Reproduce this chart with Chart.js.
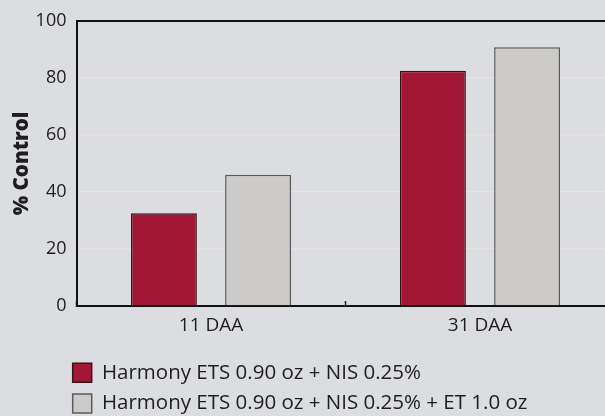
<!DOCTYPE html>
<html>
<head>
<meta charset="utf-8">
<script src="https://cdn.jsdelivr.net/npm/chart.js@4"></script>
<style>
  html, body { margin: 0; padding: 0; overflow: hidden; background: #dcdde0; width: 605px; height: 416px; }
  #wrap { width: 616px; height: 416px; }
</style>
</head>
<body>
<div id="wrap"><canvas id="c" width="616" height="416"></canvas></div>
<script>
const categories = ['11 DAA', '31 DAA'];
const seriesNames = ['Harmony ETS 0.90 oz + NIS 0.25%', 'Harmony ETS 0.90 oz + NIS 0.25% + ET 1.0 oz'];
const harmonyNis = [32.5, 82.5];
const harmonyNisEt = [46.0, 90.7];
const yTicks = [0, 20, 40, 60, 80, 100];

const FONT = '"Open Sans", Lato, sans-serif';

const legendShift = {
  id: 'legendShift',
  afterLayout(chart, args, opts) {
    const l = chart.legend;
    if (!l) return;
    l.left += opts.dx; l.right += opts.dx;
    l.top += opts.dy; l.bottom += opts.dy;
  }
};

new Chart(document.getElementById('c'), {
  type: 'bar',
  data: {
    labels: categories,
    datasets: [
      { label: seriesNames[0], data: harmonyNis, backgroundColor: '#a11735', borderColor: '#3b1119', borderWidth: 1.5, xAxisID: 'x' },
      { label: seriesNames[1], data: harmonyNisEt, backgroundColor: '#cccbc9', borderColor: '#5a5a5a', borderWidth: 1.5, xAxisID: 'x' }
    ]
  },
  plugins: [legendShift],
  options: {
    responsive: false,
    animation: false,
    devicePixelRatio: 1,
    layout: { padding: { left: 0, right: 1.5, top: 15, bottom: 0 } },
    datasets: { bar: { barPercentage: 0.70, categoryPercentage: 0.70 } },
    scales: {
      x: {
        position: 'bottom',
        offset: true,
        grid: { drawOnChartArea: false, drawTicks: true, tickLength: -5, color: '#222', tickWidth: 1.5, offset: true },
        border: { display: true, color: '#111', width: 2 },
        ticks: { color: '#1e1e1e', font: { family: FONT, size: 19 }, padding: 13 },
        afterFit(s) { s.height = 38.6; }
      },
      xTop: {
        type: 'category',
        position: 'top',
        grid: { drawOnChartArea: false, drawTicks: false },
        border: { display: true, color: '#111', width: 2 },
        ticks: { display: false },
        afterFit(s) { s.height = 0; }
      },
      y: {
        min: 0, max: 100,
        afterBuildTicks(s) { s.ticks = yTicks.map(v => ({ value: v })); },
        grid: { color: '#e5e4dd', lineWidth: 1.5, drawTicks: false },
        border: { display: true, color: '#111', width: 2 },
        ticks: { color: '#1e1e1e', font: { family: FONT, size: 18 }, padding: 10 },
        title: { display: true, text: '% Control', color: '#1e1e1e', font: { family: FONT, size: 20.5, weight: 800 }, padding: { top: 10, bottom: 0 } },
        afterFit(s) { s.width = 76.5; }
      }
    },
    plugins: {
      legend: {
        position: 'bottom',
        align: 'start',
        labels: { boxWidth: 19, boxHeight: 19, padding: 10.2, color: '#1e1e1e', font: { family: FONT, size: 20.5 } }
      },
      legendShift: { dx: 62.5, dy: 7.75 },
      tooltip: { enabled: false }
    }
  }
});
</script>
</body>
</html>
